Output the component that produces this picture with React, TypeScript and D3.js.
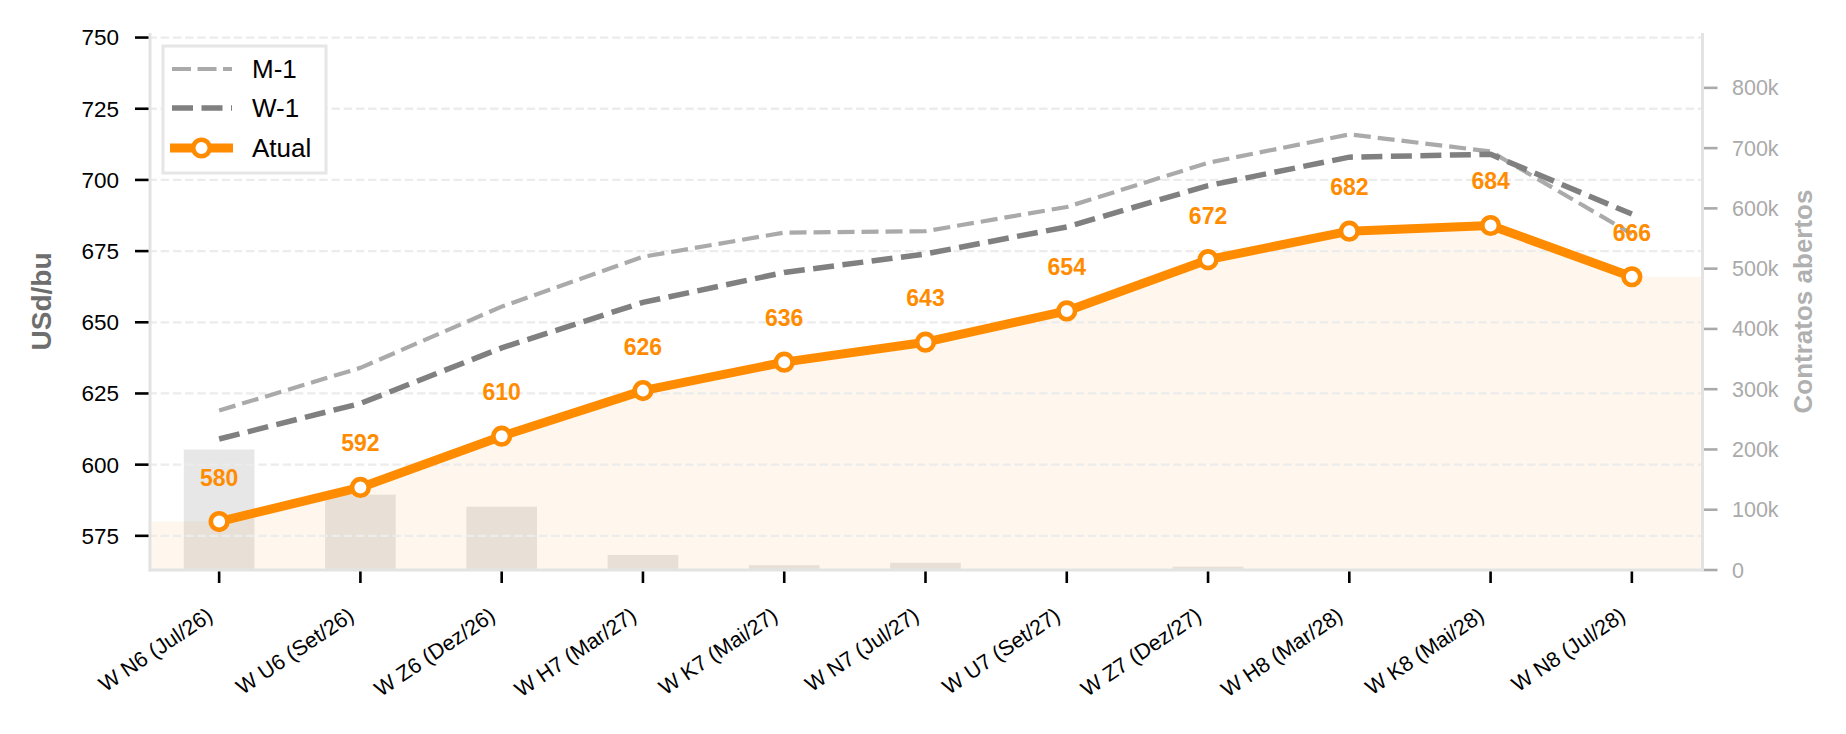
import React from "react";
import * as d3 from "d3";

const categories = [
  "W N6 (Jul/26)", "W U6 (Set/26)", "W Z6 (Dez/26)", "W H7 (Mar/27)",
  "W K7 (Mai/27)", "W N7 (Jul/27)", "W U7 (Set/27)", "W Z7 (Dez/27)",
  "W H8 (Mar/28)", "W K8 (Mai/28)", "W N8 (Jul/28)",
];
const atual = [580, 592, 610, 626, 636, 643, 654, 672, 682, 684, 666];
const m1 = [619, 634, 655.5, 673, 681.5, 682, 690.5, 706, 716, 710, 681];
const w1 = [609, 621.5, 641, 657, 667.5, 674, 683.5, 698, 708, 709, 688];
const openInterest = [200000, 125000, 105000, 25000, 8000, 12000, 0, 5500, 0, 0, 0];
const leftTicks = [575, 600, 625, 650, 675, 700, 725, 750];
const rightTicks = [0, 100000, 200000, 300000, 400000, 500000, 600000, 700000, 800000];

const W = 1846, H = 734;
const FONT = "'Liberation Sans', Arial, sans-serif";
const ORANGE = "#FF8C00";

export default function App() {
  const left = 148.5, right = 1702.5, top = 33, bottom = 570;
  const x = d3.scaleLinear().domain([-0.5, categories.length - 0.5]).range([left, right]);
  const y = d3.scaleLinear().domain([563, 751.6]).range([bottom, top]);
  const y2 = d3.scaleLinear().domain([0, 891000]).range([bottom, top]);
  const idx = categories.map((_, i) => i);

  const line = d3.line<number>().x((_, i) => x(i)).y((d) => y(d));
  const fillPts: [number, number][] = [
    [-0.5, atual[0]],
    ...atual.map((v, i) => [i, v] as [number, number]),
    [categories.length - 0.5, atual[atual.length - 1]],
  ];
  const area = d3
    .area<[number, number]>()
    .x((d) => x(d[0]))
    .y0(bottom)
    .y1((d) => y(d[1]));
  const barW = x(0.5) - x(0);
  const fmtK = (v: number) => (v === 0 ? "0" : `${v / 1000}k`);

  return (
    <svg width={W} height={H} style={{ position: "absolute", left: 0, top: 0, background: "#fff" }} fontFamily={FONT}>
      <rect x={0} y={0} width={W} height={H} fill="#fff" />
      {idx.map((i) =>
        openInterest[i] > 0 ? (
          <rect key={"b" + i} x={x(i) - barW / 2} y={y2(openInterest[i])} width={barW}
            height={bottom - y2(openInterest[i])} fill="#d0d0d0" opacity={0.5} />
        ) : null
      )}
      <path d={area(fillPts) || ""} fill={ORANGE} opacity={0.07} />
      {leftTicks.map((t) => (
        <line key={"g" + t} x1={left} x2={right} y1={y(t)} y2={y(t)} stroke="#ececec"
          strokeWidth={2.3} strokeDasharray="8.4 3.8" />
      ))}
      <line x1={150} x2={150} y1={top} y2={bottom + 1.5} stroke="#e3e3e3" strokeWidth={3} />
      <line x1={right} x2={right} y1={top} y2={bottom + 1.5} stroke="#e3e3e3" strokeWidth={3} />
      <line x1={148.5} x2={right + 1.5} y1={bottom} y2={bottom} stroke="#e3e3e3" strokeWidth={3} />
      <path d={line(m1) || ""} fill="none" stroke="#aaaaaa" strokeWidth={4.2} strokeDasharray="17 7" />
      <path d={line(w1) || ""} fill="none" stroke="#808080" strokeWidth={5.5} strokeDasharray="21 8.5" />
      <path d={line(atual) || ""} fill="none" stroke={ORANGE} strokeWidth={9} strokeLinejoin="round" />
      {atual.map((v, i) => (
        <circle key={"c" + i} cx={x(i)} cy={y(v)} r={8.3} fill="#fff" stroke={ORANGE} strokeWidth={4.6} />
      ))}
      {atual.map((v, i) => (
        <text key={"l" + i} x={x(i)} y={y(v) - 36} textAnchor="middle" fontSize={23}
          fontWeight="bold" fill={ORANGE}>{d3.format("d")(v)}</text>
      ))}
      {leftTicks.map((t) => (
        <g key={"lt" + t}>
          <line x1={135} x2={148.5} y1={y(t)} y2={y(t)} stroke="#000" strokeWidth={2.6} />
          <text x={119} y={y(t)} dy="0.35em" textAnchor="end" fontSize={22.5} fill="#000">{t}</text>
        </g>
      ))}
      <text transform={`translate(51,${(top + bottom) / 2}) rotate(-90)`} textAnchor="middle"
        fontSize={28} fontWeight="bold" fill="#6e6e6e">USd/bu</text>
      {rightTicks.map((t) => (
        <g key={"rt" + t}>
          <line x1={right + 1.5} x2={right + 15} y1={y2(t)} y2={y2(t)} stroke="#aaaaaa" strokeWidth={2.6} />
          <text x={1732} y={y2(t)} dy="0.35em" textAnchor="start" fontSize={21.5} fill="#aaaaaa">{fmtK(t)}</text>
        </g>
      ))}
      <text transform={`translate(1812,${(top + bottom) / 2}) rotate(-90)`} textAnchor="middle"
        fontSize={26} fontWeight="bold" fill="#b0b0b0">Contratos abertos</text>
      {categories.map((c, i) => (
        <g key={"xt" + i}>
          <line x1={x(i)} x2={x(i)} y1={bottom + 1.5} y2={bottom + 13} stroke="#000" strokeWidth={2.6} />
          <text transform={`translate(${x(i) - 5},${619}) rotate(-34)`} textAnchor="end"
            fontSize={21.5} fill="#000">{c}</text>
        </g>
      ))}
      <g>
        <rect x={163} y={46} width={163} height={127} fill="#fff" stroke="#e6e6e6" strokeWidth={3} />
        <line x1={172} x2={232} y1={69} y2={69} stroke="#aaaaaa" strokeWidth={4.2} strokeDasharray="19 6.5" />
        <text x={252} y={69} dy="0.35em" fontSize={26} fill="#000">M-1</text>
        <line x1={172} x2={232} y1={108} y2={108} stroke="#808080" strokeWidth={5.5} strokeDasharray="21 8.5" />
        <text x={252} y={108} dy="0.35em" fontSize={26} fill="#000">W-1</text>
        <line x1={170} x2={233} y1={148} y2={148} stroke={ORANGE} strokeWidth={9} />
        <circle cx={201.5} cy={148} r={8.3} fill="#fff" stroke={ORANGE} strokeWidth={4.6} />
        <text x={252} y={148} dy="0.35em" fontSize={26} fill="#000">Atual</text>
      </g>
    </svg>
  );
}
